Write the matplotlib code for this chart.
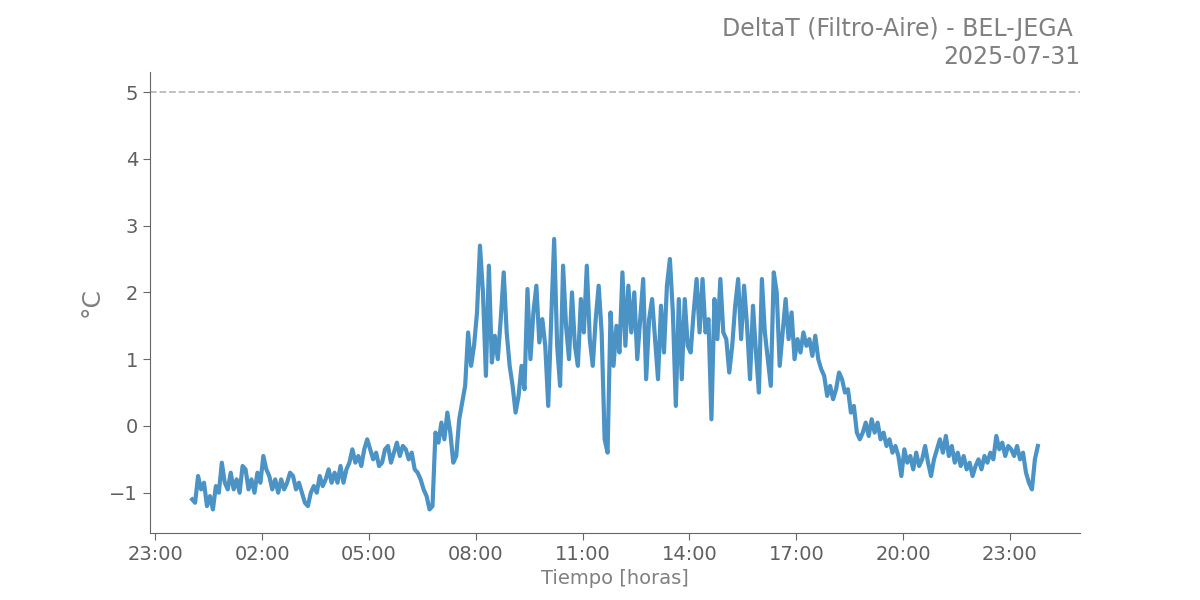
import numpy as np
import pandas as pd
import matplotlib
matplotlib.use('Agg')
import matplotlib.pyplot as plt
import matplotlib.dates as mdates

# station / day
station = "BEL-JEGA"
day = "2025-07-31"

# DeltaT (filter - air) readings, one every 5 min starting 00:02
delta_t = [
    -1.1, -1.15, -0.75, -0.95, -0.85, -1.2, -1.05, -1.25, -0.9, -1.0, -0.55, -0.85,   # 00h
    -0.95, -0.7, -0.95, -0.8, -1.0, -0.6, -0.65, -0.95, -0.8, -1.0, -0.7, -0.85,      # 01h
    -0.45, -0.65, -0.75, -0.95, -0.8, -1.0, -0.8, -0.95, -0.85, -0.7, -0.75, -0.95,   # 02h
    -0.85, -1.0, -1.15, -1.2, -1.0, -0.9, -1.0, -0.75, -0.9, -0.8, -0.65, -0.85,      # 03h
    -0.7, -0.85, -0.6, -0.85, -0.65, -0.55, -0.35, -0.55, -0.45, -0.6, -0.35, -0.2,   # 04h
    -0.35, -0.5, -0.4, -0.6, -0.55, -0.35, -0.3, -0.55, -0.4, -0.25, -0.45, -0.3,     # 05h
    -0.35, -0.5, -0.4, -0.65, -0.7, -0.8, -0.95, -1.05, -1.25, -1.2, -0.1, -0.25,     # 06h
    0.05, -0.2, 0.2, -0.1, -0.55, -0.45, 0.1, 0.35, 0.6, 1.4, 0.9, 1.2,               # 07h
    1.7, 2.7, 2.0, 0.75, 2.4, 0.95, 1.35, 1.0, 1.6, 2.3, 1.4, 0.9,                    # 08h
    0.6, 0.2, 0.45, 0.9, 0.55, 2.05, 1.0, 1.7, 2.1, 1.25, 1.6, 1.2,                   # 09h
    0.3, 1.6, 2.8, 1.2, 0.6, 2.4, 1.5, 1.0, 2.0, 1.2, 0.9, 1.9,                       # 10h
    1.4, 2.4, 1.3, 0.9, 1.6, 2.1, 1.4, -0.2, -0.4, 1.7, 0.9, 1.5,                     # 11h
    1.1, 2.3, 1.2, 2.1, 1.4, 2.0, 1.0, 1.6, 2.2, 0.7, 1.6, 1.9,                       # 12h
    1.3, 0.7, 1.8, 1.1, 2.1, 2.5, 1.7, 0.3, 1.9, 0.7, 1.9, 1.2,                       # 13h
    1.1, 1.7, 2.2, 1.4, 2.2, 1.4, 1.6, 0.1, 1.9, 1.3, 2.2, 1.4,                       # 14h
    1.3, 0.8, 1.2, 1.8, 2.2, 1.3, 2.1, 1.5, 0.7, 1.8, 1.1, 0.5,                       # 15h
    2.2, 1.4, 1.0, 0.6, 2.3, 2.0, 0.9, 1.4, 1.9, 1.3, 1.7, 1.0,                       # 16h
    1.3, 1.1, 1.4, 1.2, 1.3, 1.05, 1.35, 1.0, 0.85, 0.75, 0.45, 0.6,                  # 17h
    0.4, 0.55, 0.8, 0.7, 0.5, 0.55, 0.2, 0.3, -0.1, -0.2, -0.1, 0.05,                 # 18h
    -0.15, 0.1, -0.1, 0.05, -0.2, -0.1, -0.3, -0.2, -0.4, -0.3, -0.45, -0.75,         # 19h
    -0.35, -0.55, -0.45, -0.65, -0.4, -0.6, -0.5, -0.3, -0.55, -0.75, -0.5, -0.35,    # 20h
    -0.2, -0.4, -0.15, -0.45, -0.3, -0.55, -0.4, -0.6, -0.45, -0.65, -0.55, -0.75,    # 21h
    -0.6, -0.5, -0.65, -0.45, -0.55, -0.4, -0.5, -0.15, -0.35, -0.25, -0.45, -0.3,    # 22h
    -0.35, -0.45, -0.3, -0.5, -0.4, -0.7, -0.85, -0.95, -0.5, -0.3,                   # 23h
]
limit = 5  # reference line

times = pd.date_range(day + " 00:02", periods=len(delta_t), freq="5min")

fig, ax = plt.subplots(figsize=(12, 6), dpi=100)
fig.subplots_adjust(left=0.125, right=0.9, top=0.88, bottom=0.112)

ax.plot(times, delta_t, color='#4b92c5', lw=3.0)
ax.axhline(limit, color='#bbbbbb', ls='--', lw=1.3)

ax.set_xlim(pd.Timestamp("2025-07-30 22:51"), pd.Timestamp("2025-08-01 00:58"))
ax.set_ylim(-1.6, 5.3)

ax.xaxis.set_major_locator(mdates.HourLocator(byhour=[23, 2, 5, 8, 11, 14, 17, 20]))
ax.xaxis.set_major_formatter(mdates.DateFormatter('%H:%M'))

for s in ['top', 'right']:
    ax.spines[s].set_visible(False)
for s in ['left', 'bottom']:
    ax.spines[s].set_color('#666666')
ax.tick_params(colors='#666666', labelsize=14, length=5)
for lab in ax.get_xticklabels() + ax.get_yticklabels():
    lab.set_color('#5f5f5f')

ax.set_xlabel("Tiempo [horas]", fontsize=14, color='#808080')
ax.set_ylabel("°C", fontsize=18, color='#808080')
ax.set_title("DeltaT (Filtro-Aire) - " + station + " \n" + day,
             loc='right', fontsize=17, color='#808080')

plt.savefig("out.png")
